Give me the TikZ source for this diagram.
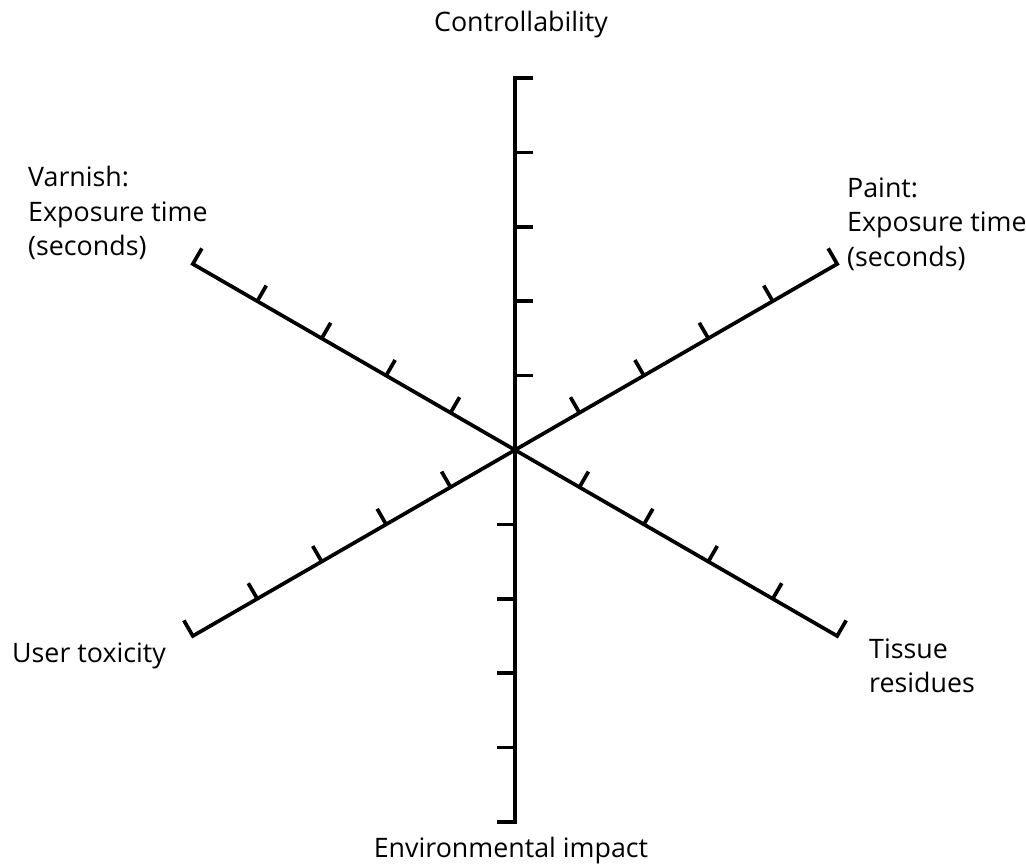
\documentclass[tikz,border=0pt]{standalone}
\usepackage{fontspec}
\setmainfont{Open Sans}
\tikzset{auto}

\begin{document}
\begin{tikzpicture}[x=1pt,y=1pt,
        axis/.style={line width=3.7pt,line join=miter},
        lbl/.style={inner sep=0pt,font=\fontsize{26.8}{34.5}\selectfont}]
        \useasboundingbox (0,0) rectangle (1026,866);
        \coordinate (o) at (515,416);
        % axis direction / tick side / name of the outer end
        \foreach \a/\t/\n in {90/0/c,270/180/e,150/60/v,330/60/r,30/120/p,210/120/u}{
          \coordinate (\n) at ([shift={(\a:372)}]o);
          \draw[axis] (o) -- (\n) -- ++(\t:18);
          \foreach \k in {1,...,4}
            \draw[axis] ([shift={(\a:\k*74.4)}]o) -- ++(\t:18);
        }
        \node[lbl] (contr) at (521,841) {Controllability};
        \node[lbl,align=left,anchor=west] (varn) at (28,653) {Varnish:\\Exposure time\\(seconds)};
        \node[lbl,align=left,anchor=west] (paint) at (847,642) {Paint:\\Exposure time\\(seconds)};
        \node[lbl,anchor=west] (user) at (12,210) {User toxicity};
        \node[lbl,align=left,anchor=west] (tissue) at (869,200) {Tissue\\residues};
        \node[lbl,anchor=south] (env) at (511,2) {Environmental impact};
      \end{tikzpicture}
\end{document}
